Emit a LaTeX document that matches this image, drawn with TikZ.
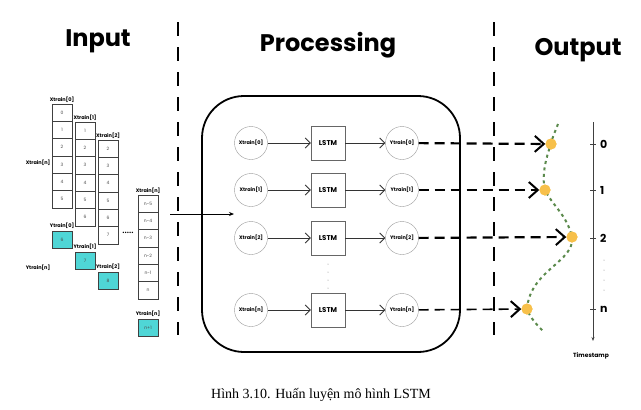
\documentclass[tikz,border=0pt]{standalone}
\usepackage{fontspec}
\setmainfont{Liberation Serif}
\newfontfamily\pop{Poppins}
\usetikzlibrary{arrows.meta,calc}
\definecolor{cy}{HTML}{4FD6D6}
\definecolor{gr}{HTML}{5B8A4C}
\definecolor{yl}{HTML}{F7C04A}
\begin{document}
\begin{tikzpicture}[x=1pt,y=-1pt,
 cell/.style={draw=black!75,line width=0.6pt,minimum width=20pt,minimum height=17.3pt,inner sep=0,font=\pop\fontsize{4.5}{4.5}\selectfont,text=black!70},
 ycell/.style={cell,fill=cy},
 lab/.style={font=\pop\bfseries\fontsize{5}{5}\selectfont,inner sep=0},
 title/.style={font=\pop\bfseries\fontsize{24}{26}\selectfont,inner sep=0},
 circ/.style={circle,draw=black!40,minimum size=33pt,inner sep=0,font=\pop\bfseries\fontsize{5}{5}\selectfont},
 lstm/.style={draw=black!60,minimum size=34pt,inner sep=0,font=\pop\bfseries\fontsize{7}{7}\selectfont},
 flow/.style={-{Straight Barb[length=5pt,width=10pt]},line width=0.9pt,black!80},
 dasharrow/.style={dash pattern=on 10pt off 6pt,line width=2.2pt,-{Straight Barb[length=9pt,width=16pt,line width=2pt]}},
 sep/.style={line width=2.6pt,dash pattern=on 14pt off 11pt},
 pt/.style={circle,fill=yl,minimum size=11pt,inner sep=0}]
\useasboundingbox (0,0) rectangle (641,410);
\node[title] (tin) at (98,41) {Input};
\node[title] (tpr) at (328,45) {Processing};
\node[title] (tout) at (578,50) {Output};
\coordinate (s1a) at (178,22); \coordinate (s1b) at (178,335);
\coordinate (s2a) at (494,22); \coordinate (s2b) at (494,335);
\draw[sep] (s1a)--(s1b); \draw[sep] (s2a)--(s2b);
% input columns
\foreach \c/\x/\y/\lst in {0/62/104/{0,1,2,3,4,5},1/85/122/{1,2,3,4,5,6},2/108/140/{2,3,4,5,6,7},n/148/195/{n-5,n-4,n-3,n-2,n-1,n}}{
  \node[lab,anchor=south] (xl\c) at (\x,\y-1.5) {Xtrain[\c]};
  \foreach \v [count=\i from 0] in \lst { \node[cell] (c\c-\i) at (\x,\y+8.65+17.3*\i) {\v}; }
}
\node[lab,anchor=south] (yl0) at (62,229) {Ytrain[0]}; \node[ycell] (y0) at (62,239.5) {6};
\node[lab,anchor=south] (yl1) at (85,250) {Ytrain[1]}; \node[ycell] (y1) at (85,260.5) {7};
\node[lab,anchor=south] (yl2) at (108,270) {Ytrain[2]}; \node[ycell] (y2) at (108,280.5) {8};
\node[lab,anchor=south] (yln) at (148,317) {Ytrain[n]}; \node[ycell] (yn) at (148,327.5) {n+1};
\node[lab] (xn) at (38,163) {Xtrain[n]};
\node[lab] (yntext) at (38,268) {Ytrain[n]};
\node[font=\bfseries\fontsize{9}{9}\selectfont,inner sep=0] (dd) at (128,233) {.....};
% processing box
\draw[line width=1.8pt,rounded corners=42pt] (202,96) rectangle (460,352);
\coordinate (ain) at (170,214); \coordinate (aout) at (234,214);
\draw[line width=1pt,-{Stealth[length=5pt,width=4pt]}] (ain)--(aout);
\foreach \r/\y in {0/143,1/190,2/238,n/310}{
  \node[circ] (X\r) at (251,\y) {Xtrain[\r]};
  \node[lstm] (L\r) at (328,\y) {LSTM};
  \node[circ] (Y\r) at (402,\y) {Ytrain[\r]};
  \draw[flow] (X\r)--(L\r); \draw[flow] (L\r)--(Y\r);
}
\foreach \yy in {264,272,280,288} \fill[black!50] (328,\yy) circle (0.5pt);
% output
\node[pt] (p0) at (551,144) {}; \node[pt] (p1) at (545,190) {};
\node[pt] (p2) at (572,237) {}; \node[pt] (pn) at (527,309) {};
\draw[dasharrow] (Y0)--(p0); \draw[dasharrow,line width=1.6pt] (Y1)--(p1);
\draw[dasharrow] (Y2)--(p2); \draw[dasharrow,line width=1.6pt] (Yn)--(pn);
\coordinate (gs) at (558,124); \coordinate (ge) at (544,332);
\draw[gr,line width=2pt,dash pattern=on 3pt off 3.5pt]
 (gs) .. controls (555,132) and (552,138) .. (p0.center)
 .. controls (547,155) and (541,175) .. (p1.center)
 .. controls (552,205) and (567,215) .. (p2.center)
 .. controls (575,262) and (530,270) .. (pn.center)
 .. controls (530,318) and (538,326) .. (ge);
\foreach \p in {p0,p1,p2,pn} \node[pt] at (\p) {};
\coordinate (ta) at (593,122); \coordinate (tb) at (593,341);
\draw[black!75,line width=0.9pt,-{Stealth[length=4pt,width=3pt]}] (ta)--(tb);
\foreach \n/\y in {0/144,1/190,2/238,n/309}{
  \draw[black!75,line width=0.9pt] (590,\y)--(596,\y);
  \node[font=\pop\bfseries\fontsize{11}{11}\selectfont,anchor=west,inner sep=0] (t\n) at (600,\y) {\n};
}
\foreach \yy in {260,270,280,290} \fill[black!50] (604,\yy) circle (0.5pt);
\node[font=\pop\bfseries\fontsize{6}{6}\selectfont] (ts) at (591,356) {Timestamp};
\node[font=\fontsize{14}{16}\selectfont] (cap) at (321,395) {Hình 3.10. Huấn luyện mô hình LSTM};
\end{tikzpicture}
\end{document}
